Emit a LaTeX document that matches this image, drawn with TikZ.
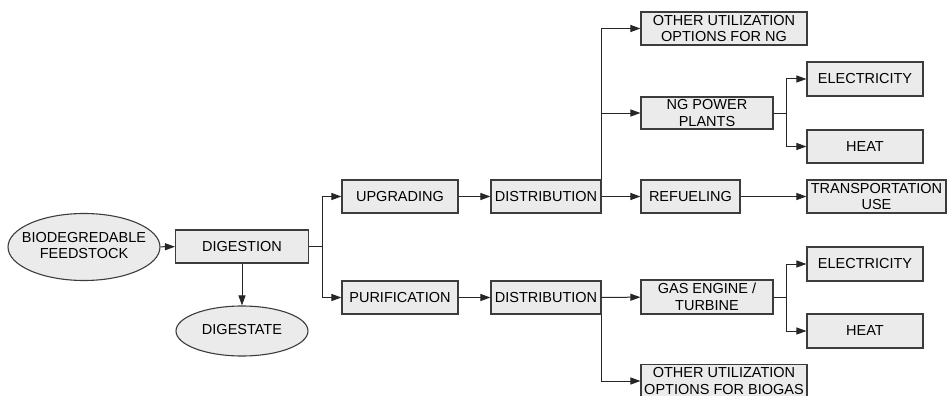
\documentclass[tikz,border=0pt]{standalone}
\usepackage{fontspec}
\setmainfont{Liberation Sans}
\usetikzlibrary{arrows.meta,shapes.geometric}
\definecolor{boxfill}{HTML}{EBEBEB}
\definecolor{boxline}{HTML}{3C3C3C}
\newcommand{\flatlabel}[1]{\makebox[0pt][c]{\begin{tabular}{@{}c@{}}#1\end{tabular}}}
\tikzset{
  every node/.style={font=\fontsize{14.5}{16.5}\selectfont, align=center, inner sep=0pt},
  stepbox/.style={draw=boxline, fill=boxfill, line width=1.1pt, minimum height=33pt},
  blob/.style={ellipse, draw=boxline, fill=boxfill, line width=1.1pt},
  flow/.style={draw=black!85, line width=1pt, -{Triangle[length=10pt,width=7pt]}},
  link/.style={draw=black!85, line width=1pt}
}
\begin{document}
\begin{tikzpicture}[x=1pt,y=-1pt]
\useasboundingbox (0,0) rectangle (948,396);

% input, digester and residue
\node[blob, minimum width=152pt, minimum height=67pt] (feed) at (84,247) {\flatlabel{BIODEGREDABLE\\FEEDSTOCK}};
\node[stepbox, minimum width=133pt] (dig) at (242,246.5) {DIGESTION};
\node[blob, minimum width=132pt, minimum height=50pt] (dgst) at (242,331) {\flatlabel{DIGESTATE}};

% gas treatment and distribution
\node[stepbox, minimum width=116pt] (upg) at (400,196.5) {UPGRADING};
\node[stepbox, minimum width=110pt] (dist1) at (546,196.5) {DISTRIBUTION};
\node[stepbox, minimum width=116pt] (pur) at (400,297.5) {PURIFICATION};
\node[stepbox, minimum width=110pt] (dist2) at (546,297.5) {DISTRIBUTION};

% natural gas uses
\node[stepbox, minimum width=166pt] (othng) at (724,28.5) {OTHER UTILIZATION\\OPTIONS FOR NG};
\node[stepbox, minimum width=132pt, minimum height=32pt] (ngpp) at (707,113) {NG POWER\\PLANTS};
\node[stepbox, minimum width=116pt, minimum height=34pt] (el1) at (865,79) {ELECTRICITY};
\node[stepbox, minimum width=116pt] (ht1) at (865,146.5) {HEAT};
\node[stepbox, minimum width=99pt] (ref) at (690.5,196.5) {REFUELING};
\node[stepbox, minimum width=139pt] (trans) at (876.5,196.5) {TRANSPORTATION\\USE};

% biogas uses
\node[stepbox, minimum width=132pt, minimum height=34pt] (gas) at (707,297) {GAS ENGINE /\\TURBINE};
\node[stepbox, minimum width=116pt, minimum height=34pt] (el2) at (865,264) {ELECTRICITY};
\node[stepbox, minimum width=116pt, minimum height=34pt] (ht2) at (865,331) {HEAT};
\node[stepbox, minimum width=166pt] (othbg) at (724,381) {OTHER UTILIZATION\\OPTIONS FOR BIOGAS};

% connectors
\draw[flow] (feed) -- (dig);
\draw[flow] (dig) -- (dgst);
\draw[link] (dig.east) -- ++(13,0) coordinate (fk1);
\draw[flow] (fk1) |- (upg.west);
\draw[flow] (fk1) |- (pur.west);
\draw[flow] (upg) -- (dist1);
\draw[flow] (pur) -- (dist2);

\draw[flow] (dist1) -- (ref);
\draw[flow] (dist1.north east) |- (ngpp.west);
\draw[flow] (dist1.north east) |- (othng.west);
\draw[link] (ngpp.east) -- ++(13,0) coordinate (fk2);
\draw[flow] (fk2) |- (el1.west);
\draw[flow] (fk2) |- (ht1.west);
\draw[flow] (ref) -- (trans);

\draw[flow] (dist2) -- (gas);
\draw[flow] (dist2.south east) |- (othbg.west);
\draw[link] (gas.east) -- ++(13,0) coordinate (fk3);
\draw[flow] (fk3) |- (el2.west);
\draw[flow] (fk3) |- (ht2.west);
\end{tikzpicture}
\end{document}
